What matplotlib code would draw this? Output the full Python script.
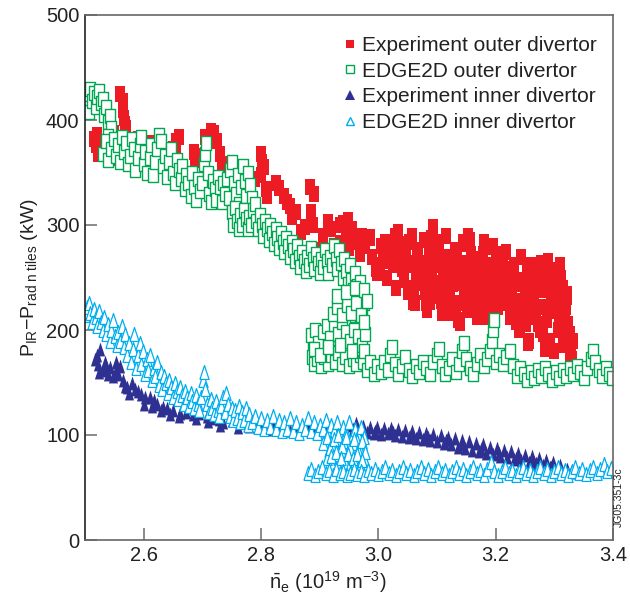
import matplotlib
matplotlib.use("Agg")
import matplotlib.pyplot as plt
from matplotlib.lines import Line2D

plt.rcParams['font.family'] = ['Liberation Sans', 'DejaVu Sans']
plt.rcParams['mathtext.fontset'] = 'custom'
plt.rcParams['mathtext.rm'] = 'Liberation Sans'
plt.rcParams['mathtext.it'] = 'Liberation Sans:italic'
plt.rcParams['mathtext.bf'] = 'Liberation Sans:bold'

# ---------------- data ----------------
# Experiment, outer divertor (red filled squares)
exp_outer_x = [2.515, 2.518, 2.522, 2.525, 2.545, 2.55, 2.543, 2.56, 2.565, 2.565, 2.567, 2.568,
               2.59, 2.595, 2.61, 2.615, 2.65, 2.655, 2.66, 2.685, 2.688, 2.705, 2.715, 2.72,
               2.73, 2.733, 2.735, 2.79, 2.80, 2.802, 2.805, 2.808, 2.825, 2.84, 2.85, 2.853,
               2.868, 2.883, 2.886, 2.888, 2.897, 2.915, 2.935, 2.94, 2.948, 2.955, 2.94,
               2.52, 2.525, 2.57, 2.6, 2.62, 2.655, 2.69, 2.725, 2.80, 2.81, 2.83, 2.845,
               2.86, 2.875, 2.89, 2.905, 2.92, 2.925,
               2.969, 2.986, 2.998, 3.003, 3.015, 3.034, 3.037, 3.049, 3.059, 3.066, 3.066,
               3.071, 3.083, 3.083, 3.088, 3.088, 3.093, 3.10, 3.10, 3.105, 3.11, 3.117,
               3.122, 3.134, 3.134, 3.139, 3.144, 3.151, 3.156, 3.156, 3.161, 3.161, 3.173,
               3.173, 3.173, 3.178, 3.185, 3.185, 3.19, 3.195, 3.202, 3.202, 3.207, 3.212,
               3.219, 3.224, 3.23, 3.241, 3.241, 3.253, 3.253, 3.255, 3.264, 3.264, 3.276,
               3.276, 3.281, 3.287, 3.287, 3.293, 3.298, 3.305, 3.305, 3.31, 3.315, 3.315,
               3.322, 3.327, 3.327, 3.066, 3.10, 3.045,
               2.935, 2.945, 2.950, 2.955, 2.962, 2.968, 2.972, 2.978, 2.985, 2.990, 2.996, 3.002,
               3.008, 3.012, 3.018, 3.024, 3.028, 3.032, 3.036, 3.040, 3.044, 3.048, 3.052, 3.056,
               3.060, 3.062, 3.064, 3.068, 3.072, 3.076, 3.080, 3.084, 3.086, 3.090, 3.094, 3.097,
               3.100, 3.102, 3.106, 3.108, 3.110, 3.114, 3.118, 3.122, 3.126, 3.130, 3.132, 3.136,
               3.138, 3.142, 3.146, 3.150, 3.152, 3.154, 3.156, 3.160, 3.162, 3.166, 3.170, 3.172,
               3.176, 3.178, 3.182, 3.186, 3.188, 3.192, 3.195, 3.198, 3.200, 3.204, 3.206, 3.210,
               3.213, 3.216, 3.220, 3.224, 3.228, 3.232, 3.236, 3.240, 3.242, 3.246, 3.250, 3.254,
               3.256, 3.258, 3.262, 3.266, 3.270, 3.272, 3.276, 3.278, 3.280, 3.282, 3.286, 3.288,
               3.292, 3.294, 3.298, 3.300, 3.304, 3.306, 3.310, 3.312, 3.316, 3.318, 3.322, 3.326,
               3.328, 3.330, 3.318, 3.300, 3.284,
               3.005, 3.015, 3.025, 3.030, 3.042, 3.050, 3.058, 3.070, 3.078, 3.082, 3.092, 3.096,
               3.104, 3.112, 3.116, 3.120, 3.124, 3.128, 3.134, 3.140, 3.144, 3.148, 3.158, 3.164,
               3.168, 3.174, 3.180, 3.184, 3.190, 3.194, 3.200, 3.208, 3.212, 3.218, 3.222, 3.226,
               3.230, 3.234, 3.238, 3.244, 3.248, 3.252, 3.260, 3.264, 3.268, 3.274, 3.282, 3.290,
               3.296, 3.302, 3.308, 3.314, 3.320, 3.324, 3.332, 3.310, 3.290]
exp_outer_y = [382, 376, 368, 372, 392, 388, 364, 425, 418, 410, 402, 396,
               382, 378, 378, 374, 372, 380, 384, 370, 362, 384, 390, 388,
               368, 358, 352, 344, 368, 360, 355, 334, 340, 328, 318, 308,
               293, 336, 312, 300, 276, 303, 283, 302, 305, 285, 278,
               386, 378, 392, 376, 370, 368, 366, 380, 348, 328, 335, 322,
               312, 298, 330, 290, 296, 280,
               286, 289, 254, 257, 270, 293, 276, 264, 227, 270, 245,
               257, 238, 219, 227, 257, 298, 276, 245, 264, 216, 257,
               231, 273, 245, 207, 257, 219, 286, 222, 254, 231, 238,
               257, 219, 264, 212, 231, 219, 279, 257, 226, 248, 270,
               235, 219, 248, 200, 222, 257, 231, 188, 216, 250, 238,
               200, 264, 219, 238, 190, 257, 222, 235, 248, 207, 188,
               231, 181, 171, 254, 264, 280,
               300, 290, 278, 296, 284, 272, 290, 280, 288, 270, 258, 262,
               274, 284, 266, 276, 290, 282, 270, 258, 248, 272, 284, 262,
               240, 226, 252, 276, 264, 246, 236, 258, 272, 288, 298, 280,
               262, 240, 228, 216, 252, 270, 244, 232, 258, 276, 222, 210,
               246, 264, 234, 282, 290, 256, 224, 240, 268, 248, 226, 258,
               236, 272, 244, 216, 230, 262, 280, 250, 236, 222, 266, 242,
               272, 226, 254, 212, 240, 262, 228, 200, 214, 248, 232, 258,
               190, 218, 242, 226, 250, 206, 238, 264, 196, 222, 250, 210,
               188, 232, 256, 218, 242, 200, 228, 250, 186, 212, 234, 196,
               178, 172, 200, 180, 182,
               280, 250, 262, 240, 282, 236, 290, 250, 286, 226, 248, 232,
               284, 236, 290, 262, 216, 244, 260, 226, 284, 250, 272, 232,
               212, 246, 284, 258, 240, 222, 268, 252, 230, 274, 242, 226,
               258, 208, 244, 270, 220, 206, 262, 230, 212, 256, 240, 220,
               244, 232, 212, 240, 222, 206, 190, 262, 266]

# EDGE2D, outer divertor (green open squares)
edge_outer_x = [2.500, 2.503, 2.506, 2.509, 2.512, 2.515, 2.518, 2.521, 2.524, 2.527, 2.530, 2.533,
                2.536, 2.539, 2.542, 2.545, 2.540, 2.535,
                2.530, 2.535, 2.540, 2.545, 2.550, 2.553, 2.556, 2.560, 2.563, 2.566, 2.570, 2.573,
                2.576, 2.580, 2.583, 2.586, 2.590, 2.593, 2.596, 2.600, 2.603, 2.606, 2.610, 2.613,
                2.616, 2.620, 2.623, 2.626, 2.630, 2.633, 2.636, 2.640, 2.643, 2.646, 2.650, 2.653,
                2.656, 2.660, 2.663, 2.666, 2.670, 2.673, 2.676, 2.680, 2.683, 2.686, 2.690, 2.693,
                2.696, 2.700, 2.702, 2.704, 2.706, 2.709, 2.712, 2.715, 2.718, 2.721, 2.724, 2.727,
                2.730, 2.733, 2.736, 2.739, 2.742, 2.745,
                2.748, 2.751, 2.754, 2.757, 2.760, 2.763, 2.766, 2.769, 2.772, 2.775, 2.778, 2.781,
                2.784, 2.750, 2.753, 2.756, 2.759, 2.762, 2.765, 2.768, 2.771, 2.774, 2.777, 2.780,
                2.783, 2.786, 2.789,
                2.792, 2.795, 2.798, 2.801, 2.804, 2.807, 2.810, 2.813, 2.816, 2.819, 2.822, 2.825,
                2.828, 2.831, 2.834, 2.837, 2.840, 2.843, 2.846, 2.849, 2.852, 2.855, 2.858, 2.861,
                2.864, 2.867, 2.870, 2.873, 2.876, 2.879, 2.882, 2.885, 2.888, 2.891, 2.894, 2.897,
                2.900, 2.903, 2.906, 2.909, 2.912, 2.915, 2.918, 2.921, 2.924, 2.927,
                2.930, 2.933, 2.936, 2.939, 2.942, 2.945, 2.948, 2.951, 2.954, 2.957, 2.960, 2.963,
                2.966, 2.969, 2.972, 2.975, 2.972, 2.968, 2.964, 2.960, 2.956, 2.952, 2.948, 2.944,
                2.940, 2.936, 2.932, 2.928, 2.924, 2.920, 2.916, 2.912, 2.908, 2.904, 2.900, 2.896,
                2.892, 2.889, 2.887,
                2.890, 2.896, 2.902, 2.908, 2.914, 2.920, 2.926, 2.932, 2.938, 2.944, 2.950, 2.956,
                2.962, 2.968, 2.974,
                2.885, 2.892, 2.898, 2.905, 2.912, 2.918, 2.925, 2.932, 2.938, 2.945, 2.952, 2.958,
                2.965, 2.972, 2.978, 2.922, 2.930, 2.938, 2.946, 2.954, 2.962, 2.970, 2.976, 2.930,
                2.945, 2.960, 2.975, 2.980, 2.890, 2.900, 2.915, 2.935, 2.955, 2.975,
                2.980, 2.986, 2.992, 2.998, 3.004, 3.010, 3.016, 3.020, 3.024, 3.028, 3.034, 3.040,
                3.046, 3.052, 3.058, 3.064, 3.070, 3.076, 3.082, 3.088, 3.094, 3.100, 3.104, 3.108,
                3.114, 3.120, 3.126, 3.132, 3.138, 3.142, 3.146, 3.150, 3.156, 3.162, 3.168, 3.174,
                3.180, 3.186, 3.190, 3.194, 3.196, 3.198, 3.200, 3.206, 3.212, 3.218, 3.224, 3.230,
                3.236, 3.242, 3.248, 3.254, 3.260, 3.266, 3.272, 3.278, 3.284, 3.290, 3.296, 3.302,
                3.308, 3.314, 3.320, 3.326, 3.332, 3.338, 3.344, 3.350, 3.356, 3.362, 3.366, 3.370,
                3.376, 3.382, 3.388, 3.394, 3.398]
edge_outer_y = [415, 425, 408, 430, 418, 426, 412, 422, 428, 416, 420, 405,
                412, 398, 404, 392, 385, 375,
                368, 380, 362, 372, 382, 366, 376, 360, 384, 370, 378, 358,
                366, 382, 372, 352, 364, 376, 384, 358, 370, 350, 364, 376,
                348, 360, 372, 386, 380, 356, 366, 346, 360, 372, 350, 340,
                362, 352, 344, 356, 334, 348, 340, 328, 350, 336, 324, 344,
                332, 340, 358, 368, 378, 350, 330, 322, 342, 334, 324, 346,
                336, 322, 340, 330, 344, 326,
                352, 360, 340, 330, 348, 320, 336, 356, 342, 328, 350, 338,
                326, 312, 300, 316, 304, 296, 310, 300, 314, 306, 296, 308,
                300, 314, 320,
                304, 296, 310, 300, 290, 304, 296, 286, 300, 292, 282, 296,
                288, 278, 292, 284, 274, 288, 280, 270, 284, 276, 266, 280,
                270, 260, 274, 266, 256, 270, 262, 278, 268, 258, 272, 264,
                254, 268, 260, 276, 266, 254, 270, 262, 280, 268,
                258, 276, 264, 250, 268, 256, 244, 262, 248, 238, 254, 242,
                232, 246, 236, 226, 218, 228, 212, 222, 206, 214, 200, 210,
                196, 206, 192, 200, 188, 198, 186, 194, 182, 192, 180, 190,
                178, 186, 174,
                168, 172, 166, 174, 168, 176, 170, 178, 168, 174, 166, 172,
                168, 176, 170,
                195, 200, 188, 198, 204, 192, 206, 196, 208, 198, 190, 200,
                194, 186, 196, 215, 222, 214, 224, 216, 226, 214, 208, 232,
                236, 240, 238, 228, 182, 176, 184, 186, 180, 180,
                162, 170, 158, 166, 160, 170, 162, 176, 184, 168, 158, 166,
                174, 162, 156, 166, 160, 170, 164, 158, 170, 176, 182, 166,
                158, 164, 172, 160, 168, 180, 188, 172, 164, 158, 168, 176,
                166, 172, 180, 190, 200, 210, 170, 176, 168, 174, 180, 166,
                156, 164, 158, 152, 160, 154, 162, 156, 164, 158, 152, 160,
                154, 162, 156, 164, 158, 166, 160, 154, 164, 172, 180, 170,
                162, 156, 164, 158, 154]

# Experiment, inner divertor (navy filled triangles)
exp_inner_x = [2.517, 2.522, 2.526, 2.531, 2.536, 2.543, 2.548, 2.553, 2.56, 2.565, 2.568, 2.572,
               2.58, 2.59, 2.595, 2.602, 2.611, 2.617, 2.623, 2.633, 2.64, 2.65, 2.662, 2.672,
               2.684, 2.695, 2.708, 2.718, 2.728, 2.735, 2.75, 2.77, 2.79, 2.8, 2.82, 2.84,
               2.86, 2.88, 2.9, 2.92, 2.94,
               2.520, 2.524, 2.534, 2.540, 2.552, 2.557, 2.575, 2.585, 2.60, 2.615, 2.63, 2.645,
               2.66, 2.69, 2.71, 2.73, 2.76, 2.78, 2.81, 2.83, 2.85, 2.87, 2.89, 2.91, 2.93,
               2.950, 2.956, 2.962, 2.968, 2.974, 2.980, 2.986, 2.992, 2.998, 3.004, 3.010, 3.016,
               3.022, 3.028, 3.034, 3.040, 3.046, 3.052, 3.058, 3.064, 3.070, 3.076, 3.082, 3.088,
               3.094, 3.100, 3.106, 3.112, 3.118, 3.124, 3.130, 3.136, 3.142, 3.148, 3.154, 3.160,
               3.166, 3.172, 3.178, 3.184, 3.190, 3.196, 3.202, 3.208, 3.214, 3.220, 3.226, 3.232,
               3.238, 3.244, 3.250, 3.256, 3.262, 3.268, 3.274, 3.280, 3.286, 3.292, 3.298, 3.304,
               3.310, 3.316, 3.322, 3.328, 3.334,
               2.965, 2.995, 3.025, 3.055, 3.085, 3.115, 3.145, 3.175, 3.205, 3.235, 3.265, 3.295]
exp_inner_y = [172, 168, 182, 162, 166, 165, 156, 162, 166, 152, 147, 146,
               150, 142, 139, 136, 136, 133, 130, 127, 126, 124, 121, 122,
               120, 121, 118, 116, 115, 112, 114, 112, 115, 113, 110, 111,
               108, 110, 107, 108, 106,
               176, 160, 170, 158, 170, 158, 140, 144, 130, 128, 124, 120,
               118, 116, 113, 110, 108, 109, 106, 107, 105, 106, 104, 105, 104,
               110, 106, 111, 104, 109, 103, 108, 102, 108, 101, 107, 102,
               107, 100, 106, 99, 105, 98, 104, 97, 103, 96, 102, 95,
               101, 94, 100, 92, 98, 91, 97, 89, 95, 88, 94, 86,
               92, 85, 91, 83, 89, 82, 88, 80, 86, 79, 85, 77,
               83, 76, 81, 74, 80, 73, 78, 71, 76, 70, 74, 68,
               71, 66, 68, 65, 66,
               106, 104, 103, 101, 98, 95, 91, 87, 83, 78, 74, 70]

# EDGE2D, inner divertor (cyan open triangles)
edge_inner_x = [2.500, 2.503, 2.506, 2.509, 2.512, 2.515, 2.518, 2.521, 2.524, 2.527, 2.530, 2.533,
                2.536, 2.539, 2.542, 2.545, 2.548, 2.551, 2.554, 2.557, 2.560, 2.563, 2.566, 2.569,
                2.572, 2.575, 2.578, 2.581, 2.584, 2.587, 2.590, 2.593, 2.596, 2.599, 2.602, 2.605,
                2.608, 2.611, 2.614, 2.617, 2.620, 2.623, 2.626, 2.629, 2.632, 2.635, 2.638, 2.641,
                2.644, 2.647, 2.650, 2.653, 2.656, 2.659, 2.662, 2.665, 2.668, 2.671, 2.674, 2.677,
                2.680, 2.683, 2.686, 2.689, 2.692, 2.695, 2.698, 2.701, 2.703, 2.705, 2.708, 2.711,
                2.714, 2.717, 2.720, 2.723, 2.726, 2.729, 2.732, 2.735, 2.738, 2.741, 2.744, 2.747,
                2.750, 2.753, 2.756, 2.759, 2.762, 2.765, 2.768, 2.771, 2.774, 2.777, 2.780, 2.785,
                2.790, 2.795, 2.800, 2.805, 2.810, 2.815, 2.820, 2.825, 2.830, 2.835, 2.840, 2.845,
                2.850, 2.855, 2.860, 2.865, 2.870, 2.875, 2.880, 2.885, 2.890, 2.895, 2.900, 2.905,
                2.910, 2.915, 2.920, 2.925, 2.930, 2.935, 2.940, 2.945, 2.950, 2.955, 2.960, 2.965,
                2.970, 2.975,
                2.972, 2.968, 2.964, 2.960, 2.956, 2.952, 2.948, 2.944, 2.940, 2.936, 2.932, 2.928,
                2.924, 2.920, 2.916, 2.912, 2.944, 2.952, 2.960, 2.968, 2.976,
                2.905, 2.912, 2.918, 2.925, 2.932, 2.938, 2.945, 2.952, 2.958, 2.965, 2.972, 2.978,
                2.920, 2.928, 2.936, 2.948, 2.956, 2.964, 2.972,
                2.880, 2.886, 2.892, 2.898, 2.904, 2.910, 2.916, 2.922, 2.928, 2.934, 2.940, 2.946,
                2.952, 2.958, 2.964, 2.970, 2.976, 2.982, 2.988, 2.994, 3.000, 3.006, 3.012, 3.018,
                3.024, 3.030, 3.036, 3.042, 3.048, 3.054, 3.060, 3.066, 3.072, 3.078, 3.084, 3.090,
                3.096, 3.102, 3.108, 3.114, 3.120, 3.126, 3.132, 3.138, 3.144, 3.150, 3.156, 3.162,
                3.168, 3.174, 3.180, 3.186, 3.192, 3.198, 3.204, 3.210, 3.216, 3.222, 3.228, 3.234,
                3.240, 3.246, 3.252, 3.258, 3.264, 3.270, 3.276, 3.282, 3.288, 3.294, 3.300, 3.306,
                3.312, 3.318, 3.324, 3.330, 3.336, 3.342, 3.348, 3.354, 3.360, 3.366, 3.372, 3.378,
                3.384, 3.390, 3.396]
edge_inner_y = [214, 222, 226, 216, 208, 220, 212, 204, 218, 208, 200, 212,
                196, 206, 190, 200, 210, 194, 186, 198, 190, 204, 184, 196,
                176, 188, 170, 182, 196, 164, 176, 188, 168, 180, 158, 172,
                162, 176, 152, 164, 156, 170, 148, 160, 144, 156, 150, 140,
                152, 146, 136, 150, 142, 134, 146, 138, 130, 142, 136, 128,
                140, 132, 126, 138, 130, 124, 136, 152, 160, 144, 130, 122,
                134, 126, 120, 132, 124, 118, 128, 136, 122, 140, 130, 118,
                126, 114, 124, 116, 128, 112, 122, 114, 126, 110, 120, 112,
                118, 108, 116, 106, 114, 108, 118, 106, 114, 104, 112, 106,
                116, 104, 112, 102, 110, 106, 116, 104, 112, 102, 110, 106,
                114, 102, 110, 104, 112, 100, 108, 102, 112, 98, 106, 100,
                108, 98,
                92, 86, 94, 84, 92, 80, 90, 84, 94, 86, 78, 88,
                82, 92, 86, 78, 74, 72, 76, 72, 78,
                92, 98, 88, 96, 100, 90, 98, 88, 96, 86, 94, 84,
                80, 84, 78, 82, 78, 82, 76,
                64, 68, 62, 66, 70, 64, 67, 62, 68, 64, 66, 62,
                64, 68, 63, 66, 62, 67, 64, 68, 63, 66, 70, 64,
                67, 62, 66, 70, 64, 67, 62, 66, 70, 64, 68, 62,
                66, 70, 64, 67, 62, 66, 70, 64, 68, 62, 66, 70,
                64, 67, 62, 68, 74, 66, 62, 66, 70, 64, 67, 62,
                66, 70, 64, 67, 62, 66, 70, 64, 68, 62, 66, 70,
                64, 67, 62, 66, 70, 64, 68, 63, 67, 70, 64, 68,
                72, 66, 69]

legend_labels = ['Experiment outer divertor', 'EDGE2D outer divertor',
                 'Experiment inner divertor', 'EDGE2D inner divertor']
x_ticks = [2.6, 2.8, 3.0, 3.2, 3.4]
x_ticklabels = ['2.6', '2.8', '3.0', '3.2', '3.4']
y_ticks = [0, 100, 200, 300, 400, 500]

RED = '#ED1C24'
GREEN = '#00A651'
NAVY = '#2E3192'
CYAN = '#00AEEF'

rect_red = [(-0.32, -0.5), (0.32, -0.5), (0.32, 0.5), (-0.32, 0.5), (-0.32, -0.5)]
rect_green = [(-0.36, -0.5), (0.36, -0.5), (0.36, 0.5), (-0.36, 0.5), (-0.36, -0.5)]
tri = [(-0.33, -0.5), (0.33, -0.5), (0.0, 0.5), (-0.33, -0.5)]

fig = plt.figure(figsize=(6.3, 6.04), dpi=100)
ax = fig.add_axes([85/630, 1 - 540/604, 528/630, 525/604])

ax.plot(exp_outer_x, exp_outer_y, ls='none', marker=rect_red, ms=11.2, mfc=RED, mec=RED, mew=0)
ax.plot(edge_outer_x, edge_outer_y, ls='none', marker=rect_green, ms=9.4, mfc='white', mec=GREEN, mew=1.0)
ax.plot(exp_inner_x, exp_inner_y, ls='none', marker=tri, ms=10, mfc=NAVY, mec=NAVY, mew=0)
ax.plot(edge_inner_x, edge_inner_y, ls='none', marker=tri, ms=10, mfc='white', mec=CYAN, mew=0.9)

ax.set_xlim(2.5, 3.4)
ax.set_ylim(0, 500)
ax.set_xticks(x_ticks)
ax.set_xticklabels(x_ticklabels)
ax.set_yticks(y_ticks)
ax.tick_params(direction='in', length=8.5, width=1.2, color='#777777',
               labelsize=14.5, labelcolor='#222222', pad=4)
for s in ['top', 'right', 'bottom']:
    ax.spines[s].set_color('#666666')
ax.spines['left'].set_color('#222222')
for s in ax.spines.values():
    s.set_linewidth(1.2)

ax.set_ylabel(r'$\mathrm{P_{IR}{-}P_{rad\ n\ tiles}}$ (kW)', fontsize=14, color='#222222', labelpad=4)
ax.set_xlabel(r'$\bar{\mathrm{n}}_\mathrm{e}$ (10$^{19}$ m$^{-3}$)', fontsize=14.5, color='#222222')
ax.xaxis.set_label_coords(0.46, -0.055)

handles = [
    Line2D([], [], ls='none', marker='s', ms=6, mfc=RED, mec=RED, mew=0),
    Line2D([], [], ls='none', marker='s', ms=5.5, mfc='white', mec=GREEN, mew=1.0),
    Line2D([], [], ls='none', marker='^', ms=6.5, mfc=NAVY, mec=NAVY, mew=0),
    Line2D([], [], ls='none', marker='^', ms=6, mfc='white', mec=CYAN, mew=1.0),
]
leg = ax.legend(handles, legend_labels, loc='upper left', bbox_to_anchor=(0.487, 0.960),
                frameon=False, fontsize=15, handlelength=0.8, handletextpad=0.15,
                labelspacing=0.32, borderaxespad=0, borderpad=0)
for t in leg.get_texts():
    t.set_color('#222222')

fig.text(619/630, 1 - 497/604, 'JG05.351-3c', rotation=90, fontsize=7.5, color='#222222',
         ha='center', va='center')

fig.savefig('out.png', dpi=100)
